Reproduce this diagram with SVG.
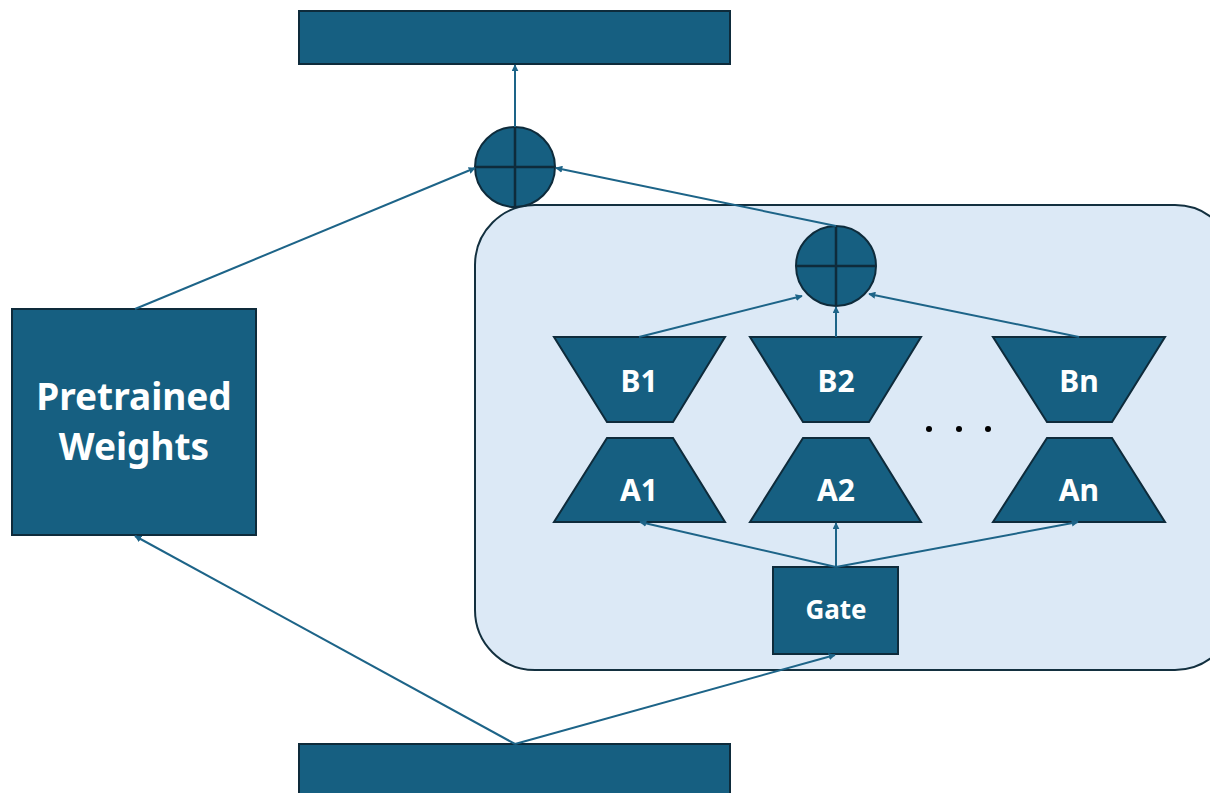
<svg xmlns="http://www.w3.org/2000/svg" width="1210" height="793" viewBox="0 0 1210 793">
  <style>
    .blk { fill: #165f81; stroke: #0e2b3b; stroke-width: 2; }
    .panel { fill: #dce9f6; stroke: #13303f; stroke-width: 2; }
    .cross { stroke: #0e2b3b; stroke-width: 2.5; fill: none; }
    .edge { stroke: #1d6488; stroke-width: 2; fill: none; marker-end: url(#arrow); }
    .lbl { fill: #ffffff; font-family: "Noto Sans", "DejaVu Sans", sans-serif; font-weight: bold; text-anchor: middle; dominant-baseline: central; }
  </style>
  <defs>
    <marker id="arrow" viewBox="0 0 10 10" refX="9" refY="5" markerWidth="7" markerHeight="7" orient="auto" markerUnits="userSpaceOnUse">
      <path d="M0,0 L10,5 L0,10 z" fill="#1d6488"/>
    </marker>
  </defs>
  <rect width="1210" height="793" fill="#ffffff"/>

  <!-- expert panel -->
  <g id="panel">
    <rect class="panel" x="475" y="205" width="760" height="465" rx="60" ry="60"/>
  </g>

  <g id="output">
    <rect class="blk" x="299" y="11" width="431" height="53"/>
  </g>
  <g id="input">
    <rect class="blk" x="299" y="744" width="431" height="60"/>
  </g>

  <g id="pretrained">
    <rect class="blk" x="12" y="309" width="244" height="226"/>
    <text class="lbl" x="134" y="395" font-size="37">Pretrained</text>
    <text class="lbl" x="134" y="445" font-size="37">Weights</text>
  </g>

  <g id="sum-outer">
    <circle class="blk" cx="515" cy="167" r="40"/>
    <path class="cross" d="M475,167 H555 M515,127 V207"/>
  </g>
  <g id="sum-inner">
    <circle class="blk" cx="836" cy="266" r="40"/>
    <path class="cross" d="M796,266 H876 M836,226 V306"/>
  </g>

  <g id="B1">
    <polygon class="blk" points="554,337 725,337 673,422 607,422"/>
    <text class="lbl" x="639" y="380" font-size="30">B1</text>
  </g>
  <g id="A1">
    <polygon class="blk" points="607,438 673,438 725,522 554,522"/>
    <text class="lbl" x="639" y="489" font-size="30">A1</text>
  </g>
  <g id="B2">
    <polygon class="blk" points="750,337 921,337 869,422 803,422"/>
    <text class="lbl" x="836" y="380" font-size="30">B2</text>
  </g>
  <g id="A2">
    <polygon class="blk" points="803,438 869,438 921,522 750,522"/>
    <text class="lbl" x="836" y="489" font-size="30">A2</text>
  </g>
  <g id="Bn">
    <polygon class="blk" points="993,337 1165,337 1112,422 1047,422"/>
    <text class="lbl" x="1079" y="380" font-size="30">Bn</text>
  </g>
  <g id="An">
    <polygon class="blk" points="1047,438 1112,438 1165,522 993,522"/>
    <text class="lbl" x="1079" y="489" font-size="30">An</text>
  </g>

  <g id="ellipsis" fill="#000000">
    <circle cx="929" cy="429" r="3"/>
    <circle cx="959" cy="429" r="3"/>
    <circle cx="988" cy="429" r="3"/>
  </g>

  <g id="gate">
    <rect class="blk" x="773" y="567" width="125" height="87"/>
    <text class="lbl" x="836" y="609" font-size="26">Gate</text>
  </g>

  <!-- connectors -->
  <g id="connectors">
    <line class="edge" x1="515" y1="127" x2="515" y2="65"/>
    <line class="edge" x1="135" y1="309" x2="475" y2="168"/>
    <line class="edge" x1="836" y1="226" x2="556" y2="168"/>
    <line class="edge" x1="639" y1="337" x2="802" y2="296"/>
    <line class="edge" x1="836" y1="337" x2="836" y2="307"/>
    <line class="edge" x1="1079" y1="337" x2="869" y2="294"/>
    <line class="edge" x1="836" y1="567" x2="640" y2="522"/>
    <line class="edge" x1="836" y1="567" x2="836" y2="523"/>
    <line class="edge" x1="836" y1="567" x2="1078" y2="522"/>
    <line class="edge" x1="515" y1="744" x2="135" y2="536"/>
    <line class="edge" x1="515" y1="744" x2="835" y2="655"/>
  </g>
</svg>
